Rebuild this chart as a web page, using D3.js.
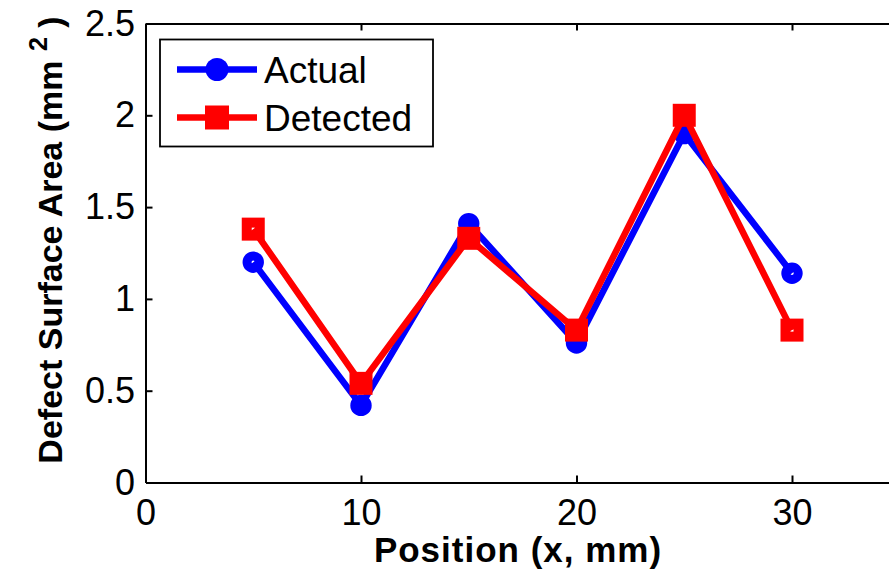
<!DOCTYPE html>
<html>
<head>
<meta charset="utf-8">
<script src="https://cdn.jsdelivr.net/npm/d3@7"></script>
<style>
  body { margin: 0; background: #fff; }
  svg { display: block; }
  .tick text { font-family: "Liberation Sans", Arial, sans-serif; font-size: 36px; fill: #000; }
  .axis path, .axis line { stroke: #000; stroke-width: 2; }
</style>
</head>
<body>
<svg width="889" height="573"></svg>
<script>
// data
var positions = [5, 10, 15, 20, 25, 30];
var actual = [1.20, 0.42, 1.41, 0.76, 1.90, 1.14];
var detected = [1.38, 0.54, 1.33, 0.83, 2.00, 0.83];
var xTicks = [0, 10, 20, 30];
var yTicks = [0, 0.5, 1, 1.5, 2, 2.5];
var seriesNames = ["Actual", "Detected"];

var svg = d3.select("svg");

var plotLeft = 145.5, plotTop = 23.5, plotBottom = 482.5;

var x = d3.scaleLinear().domain([0, 35]).range([plotLeft, plotLeft + 3.5 * 215.5]);
var y = d3.scaleLinear().domain([0, 2.5]).range([plotBottom, plotTop]);

// axes box (right side falls outside the picture)
svg.append("g")
    .attr("class", "axis")
    .attr("transform", "translate(0," + plotBottom + ")")
    .call(d3.axisBottom(x).tickValues(xTicks).tickSizeInner(-7).tickSizeOuter(0).tickPadding(17));

svg.append("g")
    .attr("class", "axis")
    .attr("transform", "translate(0," + plotTop + ")")
    .call(d3.axisTop(x).tickValues(xTicks).tickSizeInner(-7).tickSizeOuter(0).tickFormat(""));

svg.append("g")
    .attr("class", "axis")
    .attr("transform", "translate(" + plotLeft + ",0)")
    .call(d3.axisLeft(y).tickValues(yTicks).tickSizeInner(-7).tickSizeOuter(0).tickPadding(10.5)
        .tickFormat(function (d) { return d; }));

svg.selectAll(".axis .tick").filter(function (d) { return d === 0; })
    .select("line").remove();

// lines
var line = d3.line()
    .x(function (d, i) { return x(positions[i]); })
    .y(function (d) { return y(d); });

svg.append("path")
    .datum(actual)
    .attr("d", line)
    .attr("fill", "none")
    .attr("stroke", "#0000ff")
    .attr("stroke-width", 6.5)
    .attr("stroke-linejoin", "miter");

svg.selectAll(".dotA")
    .data(actual)
    .enter().append("circle")
    .attr("cx", function (d, i) { return x(positions[i]); })
    .attr("cy", function (d) { return y(d); })
    .attr("r", 6.2)
    .attr("fill", "none")
    .attr("stroke", "#0000ff")
    .attr("stroke-width", 9);

svg.append("path")
    .datum(detected)
    .attr("d", line)
    .attr("fill", "none")
    .attr("stroke", "#ff0000")
    .attr("stroke-width", 6.5)
    .attr("stroke-linejoin", "miter");

svg.selectAll(".sqD")
    .data(detected)
    .enter().append("rect")
    .attr("x", function (d, i) { return x(positions[i]) - 6.5; })
    .attr("y", function (d) { return y(d) - 6.5; })
    .attr("width", 13)
    .attr("height", 13)
    .attr("fill", "none")
    .attr("stroke", "#ff0000")
    .attr("stroke-width", 10);

// legend
var legend = svg.append("g");
legend.append("rect")
    .attr("x", 160).attr("y", 39.5)
    .attr("width", 273).attr("height", 107)
    .attr("fill", "#fff")
    .attr("stroke", "#000")
    .attr("stroke-width", 1.8);

var colors = ["#0000ff", "#ff0000"];
seriesNames.forEach(function (name, i) {
    var ly = 69.5 + i * 48;
    legend.append("line")
        .attr("x1", 177).attr("x2", 257)
        .attr("y1", ly).attr("y2", ly)
        .attr("stroke", colors[i])
        .attr("stroke-width", 6.5);
    if (i === 0) {
        legend.append("circle")
            .attr("cx", 217).attr("cy", ly).attr("r", 11.5)
            .attr("fill", colors[i]);
    } else {
        legend.append("rect")
            .attr("x", 205).attr("y", ly - 12)
            .attr("width", 24).attr("height", 24)
            .attr("fill", colors[i]);
    }
    legend.append("text")
        .attr("x", 264).attr("y", ly + 13.5)
        .style("font-family", "'Liberation Sans', Arial, sans-serif")
        .style("font-size", "37px")
        .text(name);
});

// axis titles
svg.append("text")
    .attr("x", 518).attr("y", 562)
    .attr("text-anchor", "middle")
    .style("font-family", "'Liberation Sans', Arial, sans-serif")
    .style("font-size", "35px")
    .style("letter-spacing", "1px")
    .style("font-weight", "bold")
    .text("Position (x, mm)");

var yTitle = svg.append("text")
    .attr("transform", "translate(62,240) rotate(-90)")
    .attr("text-anchor", "middle")
    .style("font-family", "'Liberation Sans', Arial, sans-serif")
    .style("font-size", "34px")
    .style("font-weight", "bold");
yTitle.append("tspan").text("Defect Surface Area (mm ");
yTitle.append("tspan").attr("dy", -15).style("font-size", "25px").text("2");
yTitle.append("tspan").attr("dy", 15).text(" )");
</script>
</body>
</html>
